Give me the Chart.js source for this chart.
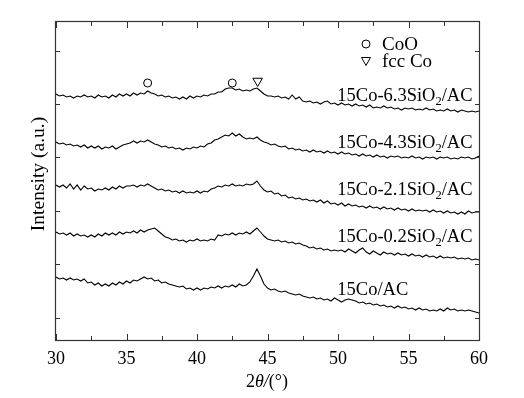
<!DOCTYPE html>
<html><head><meta charset="utf-8">
<script src="https://cdn.jsdelivr.net/npm/chart.js@4.4.1/dist/chart.umd.min.js"></script>
<style>html,body{margin:0;padding:0;background:#fff;font-family:"Liberation Serif",serif}#wrap{width:524px;height:398px}</style>
</head><body><div id="wrap"><canvas id="c" width="524" height="398"></canvas></div>
<script>
// 2theta sampling grid (degrees)
const thetaStart = 30, thetaStep = 0.25, thetaCount = 121;
const twoTheta = Array.from({length: thetaCount}, (_, i) => thetaStart + i * thetaStep);

// Stacked intensities (a.u.), 30..60 deg every 0.25 deg
const s63 = [246,244,245,243,244,242,244,243,245,243,
  244,242,245,243,244,242,245,243,246,244,
  246,244,247,245,247,246,249,247,246,244,
  245,243,244,242,243,241,243,241,244,242,
  244,243,245,244,246,246,248,248,251,252,
  252,250,251,249,250,249,251,252,249,246,
  244,244,243,244,242,243,241,245,241,243,
  239,238,239,237,238,236,238,239,236,237,
  235,237,235,236,234,236,234,235,233,235,
  232,233,232,234,232,233,231,232,230,232,
  231,232,230,231,230,232,230,231,229,230,
  229,231,229,230,228,230,229,228,229,228,229];
const s43 = [198,196,197,195,196,194,195,193,195,192,
  194,192,194,191,193,192,194,191,193,195,
  196,197,199,197,199,198,200,198,196,195,
  193,194,192,193,191,192,190,192,191,193,
  192,194,193,196,197,200,201,203,205,204,
  207,204,206,203,201,202,201,203,200,198,
  197,195,196,194,193,194,191,192,190,191,
  189,190,188,190,188,189,187,189,187,188,
  186,188,186,187,185,186,184,186,184,185,
  183,185,183,184,182,184,183,184,182,183,
  182,184,182,183,181,183,182,183,181,183,
  182,183,181,182,181,183,182,183,181,182,184];
const s21 = [155,153,155,152,156,151,155,150,154,151,
  152,149,151,150,152,150,153,151,154,152,
  154,154,155,153,155,154,156,154,152,150,
  151,149,150,148,149,147,149,147,148,147,
  149,147,149,148,151,152,154,153,155,154,
  156,154,155,154,156,155,156,159,154,150,
  148,149,146,147,144,145,142,143,141,142,
  140,141,139,140,138,140,137,139,136,137,
  135,137,134,136,134,135,133,134,132,134,
  132,133,131,133,131,132,130,132,130,131,
  129,131,129,130,129,130,128,130,128,129,
  127,129,127,128,126,128,126,129,127,128,128];
const s02 = [108,106,107,105,107,104,106,104,105,103,
  105,103,106,104,107,105,107,105,108,106,
  108,107,109,107,110,108,110,111,112,109,
  106,103,102,100,101,99,100,98,100,99,
  101,99,100,99,101,100,105,104,106,105,
  107,105,107,106,108,106,109,112,108,104,
  101,100,99,100,98,99,97,98,96,97,
  95,94,92,93,91,92,90,91,89,90,
  89,90,88,91,89,87,90,92,88,86,
  89,87,85,88,86,87,85,87,85,86,
  84,86,84,85,83,85,83,84,82,84,
  82,83,82,83,81,82,81,82,80,81,80];
const s00 = [63,61,62,60,62,60,61,59,61,57,
  58,55,57,54,56,54,57,55,58,56,
  59,57,60,59,61,63,61,62,59,60,
  57,58,56,55,54,53,54,51,52,50,
  52,50,52,51,53,52,54,52,54,53,
  55,53,56,54,55,58,64,71,64,56,
  52,50,51,49,48,49,47,46,45,46,
  44,43,42,43,41,42,40,41,39,42,
  40,38,40,41,40,39,37,38,36,37,
  35,36,34,35,33,34,32,34,32,33,
  31,32,30,32,30,31,29,30,29,31,
  29,32,30,31,29,30,29,30,29,28,27];

const seriesNames = ['15Co-6.3SiO2/AC','15Co-4.3SiO2/AC','15Co-2.1SiO2/AC','15Co-0.2SiO2/AC','15Co/AC'];
const seriesValues = [s63, s43, s21, s02, s00];
const labelAnchorX = 49.95;              // deg
const labelAnchorY = [239,192,145,98,45]; // a.u.

// phase markers above the top pattern
const cooPeaks = [36.5, 42.5];
const fccPeaks = [44.3];
const markerLevel = 257;

const xMajorTicks = [30,35,40,45,50,55,60];
const xMinorTicks = [32.5,37.5,42.5,47.5,52.5,57.5];
const yTicks = [22,76,129,183,236,289];

const FONT = '"Liberation Serif", serif';

function build() {
  const datasets = seriesValues.map((vals, k) => ({
    label: seriesNames[k],
    data: vals.map((v, i) => ({x: twoTheta[i], y: v})),
    borderColor: '#000', borderWidth: 1.1, pointRadius: 0, tension: 0, fill: false
  }));
  datasets.push({
    type: 'scatter', label: 'CoO',
    data: cooPeaks.map(p => ({x: p, y: markerLevel})),
    pointStyle: 'circle', pointRadius: 4, borderColor: '#000', borderWidth: 1,
    backgroundColor: 'rgba(0,0,0,0)'
  });
  datasets.push({
    type: 'scatter', label: 'fcc Co',
    data: fccPeaks.map(p => ({x: p, y: markerLevel + 2})),
    pointStyle: 'triangle', rotation: 180, pointRadius: 5.5, borderColor: '#000', borderWidth: 1,
    backgroundColor: 'rgba(0,0,0,0)'
  });

  function drawSubLabel(ctx, text, x, y) {
    const m = text.match(/^(.*SiO)2(.*)$/);
    ctx.font = '18.5px ' + FONT;
    ctx.textBaseline = 'alphabetic';
    ctx.textAlign = 'left';
    if (!m) { ctx.fillText(text, x, y); return; }
    ctx.fillText(m[1], x, y);
    let w = ctx.measureText(m[1]).width;
    ctx.font = '12.5px ' + FONT;
    ctx.fillText('2', x + w, y + 4);
    w += ctx.measureText('2').width;
    ctx.font = '18.5px ' + FONT;
    ctx.fillText(m[2], x + w, y);
  }

  const decor = {
    id: 'decor',
    afterDraw(chart) {
      const {ctx, chartArea: a, scales: {x, y}} = chart;
      ctx.save();
      ctx.strokeStyle = '#333';
      ctx.lineWidth = 1.2;
      ctx.strokeRect(a.left - 0.5, a.top - 0.5, a.right - a.left + 1, a.bottom - a.top + 1);
      ctx.lineWidth = 1;
      ctx.beginPath();
      const tick = (vals, len) => vals.forEach(v => {
        const px = Math.round(x.getPixelForValue(v)) + 0.5;
        ctx.moveTo(px, a.bottom); ctx.lineTo(px, a.bottom - len);
        ctx.moveTo(px, a.top); ctx.lineTo(px, a.top + len);
      });
      tick(xMajorTicks, 6);
      tick(xMinorTicks, 4);
      yTicks.forEach(v => {
        const py = Math.round(y.getPixelForValue(v)) + 0.5;
        ctx.moveTo(a.left, py); ctx.lineTo(a.left + 4, py);
        ctx.moveTo(a.right, py); ctx.lineTo(a.right - 4, py);
      });
      ctx.stroke();

      ctx.fillStyle = '#000';
      seriesNames.forEach((n, k) => {
        drawSubLabel(ctx, n, x.getPixelForValue(labelAnchorX), y.getPixelForValue(labelAnchorY[k]));
      });
      // legend
      ctx.strokeStyle = '#000';
      ctx.lineWidth = 1;
      ctx.beginPath(); ctx.arc(366, 44, 4, 0, Math.PI * 2); ctx.stroke();
      ctx.beginPath();
      ctx.moveTo(361.5, 57.5); ctx.lineTo(370.5, 57.5); ctx.lineTo(366, 65.5); ctx.closePath(); ctx.stroke();
      ctx.font = '19px ' + FONT;
      ctx.textAlign = 'left'; ctx.textBaseline = 'alphabetic';
      ctx.fillText('CoO', 382, 50);
      ctx.fillText('fcc Co', 382, 67);

      // y title
      ctx.save();
      ctx.translate(39, 174);
      ctx.rotate(-Math.PI / 2);
      ctx.font = '19.5px ' + FONT;
      ctx.textAlign = 'center'; ctx.textBaseline = 'middle';
      ctx.fillText('Intensity (a.u.)', 0, 0);
      ctx.restore();

      // x title 2θ/(°)
      const parts = [['2', ''], ['θ', 'italic '], ['/', 'italic '], ['(°)', '']];
      let total = 0;
      parts.forEach(p => { ctx.font = p[1] + '18px ' + FONT; total += ctx.measureText(p[0]).width; });
      let cx = 267 - total / 2;
      ctx.textAlign = 'left';
      parts.forEach(p => { ctx.font = p[1] + '18px ' + FONT; ctx.fillText(p[0], cx, 387); cx += ctx.measureText(p[0]).width; });
      ctx.restore();
    }
  };

  new Chart(document.getElementById('c'), {
    type: 'line',
    data: {datasets},
    options: {
      responsive: false, animation: false, devicePixelRatio: 1,
      layout: {padding: {left: 0, right: 45, top: 22, bottom: 0}},
      plugins: {legend: {display: false}, tooltip: {enabled: false}},
      scales: {
        x: {
          type: 'linear', min: 30, max: 60,
          grid: {display: false, drawTicks: false}, border: {display: false},
          ticks: {stepSize: 5, color: '#000', padding: 8, font: {family: FONT, size: 18}},
          afterFit: s => { s.height = 58; }
        },
        y: {
          type: 'linear', min: 0, max: 318,
          grid: {display: false, drawTicks: false}, border: {display: false},
          ticks: {display: false},
          afterFit: s => { s.width = 56; }
        }
      }
    },
    plugins: [decor]
  });
}

Promise.all([
  document.fonts.load('18px "Liberation Serif"'),
  document.fonts.load('italic 18px "Liberation Serif"')
]).catch(() => {}).then(build);
</script></body></html>
